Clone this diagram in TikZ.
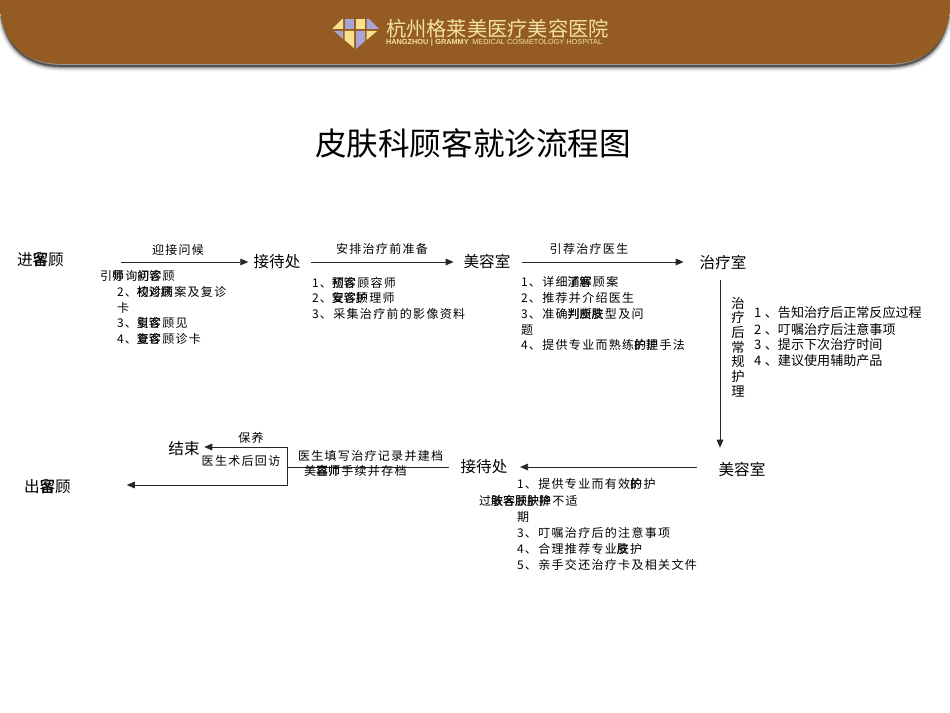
\documentclass[tikz,border=0pt]{standalone}
\usepackage{fontspec}
\usetikzlibrary{arrows.meta}
\setmainfont{Noto Sans CJK SC}
\newfontfamily\cjkwide[LetterSpace=11]{Noto Sans CJK SC}
\newfontfamily\cjkplain{Noto Sans CJK SC}
\newfontfamily\latinlogo{Liberation Sans}
\newcommand{\ovl}[2]{\rlap{#1}#2}
\newcommand{\sidenum}[1]{\makebox[8.2pt][l]{#1}}
\definecolor{brownband}{HTML}{945B22}
\definecolor{logotext}{HTML}{F2E2A6}
\definecolor{logoyellow}{HTML}{F8E08C}
\definecolor{logoviolet}{HTML}{A8A4D6}
\tikzset{
  x=0.75pt,y=-0.75pt,
  every node/.style={inner sep=0pt,outer sep=0pt},
  flownode/.style={font=\cjkplain\fontsize{11.7}{12}\selectfont},
  steptext/.style={anchor=west,font=\cjkwide\fontsize{9}{10}\selectfont},
  edgetext/.style={font=\cjkwide\fontsize{9}{10}\selectfont},
  sidetext/.style={anchor=west,font=\cjkplain\fontsize{9.8}{10}\selectfont},
  flowline/.style={line width=0.6pt,black!85},
  flowarrow/.style={flowline,-{Triangle[length=6pt,width=5pt]}},
}
\begin{document}
\begin{tikzpicture}
\useasboundingbox (0,0) rectangle (950,713);
% header band
\foreach \w/\g in {8/4,6.5/10,5/20,3.5/34,2.2/50,1.2/68}{
  \draw[black!\g,line width=\w pt] (2,16) .. controls (7,48) and (27,66) .. (62,66) -- (888,66) .. controls (923,66) and (943,48) .. (948,16);
}
\fill[brownband] (0,0) -- (0,12) .. controls (5,45) and (25,64) .. (62,64) -- (888,64) .. controls (925,64) and (945,45) .. (950,12) -- (950,0) -- cycle;
% logo
\fill[logoyellow] (332,29) -- (342,19) -- (343,19) -- (343,29) -- cycle;
\fill[logoviolet] (344.5,19) -- (354,19) -- (354,29) -- (344.5,29) -- cycle;
\fill[logoyellow] (356,19) -- (365,19) -- (365,29) -- (356,29) -- cycle;
\fill[logoviolet] (366.5,19) -- (369,19) -- (379,29) -- (366.5,29) -- cycle;
\fill[logoviolet] (334,31) -- (343,31) -- (343,39) -- cycle;
\fill[logoyellow] (344.5,31) -- (354,31) -- (354,48) -- (344.5,40) -- cycle;
\fill[logoviolet] (356,31) -- (365,31) -- (365,41) -- (356,49) -- cycle;
\fill[logoyellow] (366.5,31) -- (377,31) -- (366.5,40) -- cycle;
\node[anchor=west,text=logotext,font=\cjkplain\fontsize{15.2}{16}\selectfont] (logoname) at (386,29) {杭州格莱美医疗美容医院};
\node[anchor=west,text=logotext,font=\latinlogo\fontsize{5.5}{6}\selectfont] (logosub) at (386,43) {\textbf{HANGZHOU\,\,|\,\,GRAMMY}\,\,\,MEDICAL COSMETOLOGY HOSPITAL};
% title
\node[font=\cjkplain\fontsize{23.7}{26}\selectfont] (title) at (473,143) {皮肤科顾客就诊流程图};
% top row
\node[flownode,anchor=west] (inguest) at (17,260) {进\ovl{客}{留}顾};
\node[flownode] (recep1) at (277,262) {接待处};
\node[flownode] (beauty1) at (487,262) {美容室};
\node[flownode] (treat) at (723,263) {治疗室};
\draw[flowarrow] ([xshift=43pt]inguest.east |- recep1.west) -- ([xshift=-4pt]recep1.west);
\draw[flowarrow] ([xshift=8pt]recep1.east) -- ([xshift=-7.5pt]beauty1.west);
\draw[flowarrow] ([xshift=9pt]beauty1.east) -- ([xshift=-12pt]treat.west |- beauty1.west);
\node[edgetext] (e1) at (178,250) {迎接问候};
\node[edgetext] (e2) at (382,249) {安排治疗前准备};
\node[edgetext] (e3) at (589,249) {引荐治疗医生};
% list 1
\node[steptext] (a1) at (100,276) {引\ovl{导}{师}询\ovl{问}{初}\ovl{诊}{客}顾};
\node[steptext] (a2) at (117,292) {2、\ovl{初}{校}\ovl{诊}{对}\ovl{顾}{病}案及复诊};
\node[steptext] (a3) at (117,308) {卡};
\node[steptext] (a4) at (117,323) {3、\ovl{引}{复}\ovl{诊}{客}顾见};
\node[steptext] (a5) at (117,339) {4、\ovl{查}{复}\ovl{诊}{客}顾诊卡};
% list 2
\node[steptext] (b1) at (312,283) {1、\ovl{初}{预}\ovl{诊}{客}顾容师};
\node[steptext] (b2) at (312,298) {2、\ovl{复}{安}\ovl{诊}{客}\ovl{顾}{护}理师};
\node[steptext] (b3) at (312,314) {3、采集治疗前的影像资料};
% list 3
\node[steptext] (c1) at (521,282) {1、详细\ovl{了}{浦}\ovl{解}{客}顾案};
\node[steptext] (c2) at (521,298) {2、推荐并介绍医生};
\node[steptext] (c3) at (521,314) {3、准确\ovl{判}{判}\ovl{断}{皮}\ovl{皮}{肤}型及问};
\node[steptext] (c4) at (521,330) {题};
\node[steptext] (c5) at (521,345) {4、提供专业而熟练\ovl{的}{护}\ovl{护}{理}手法};
% right column
\node[flownode] (beauty2) at (742,469) {美容室};
\coordinate (vertx) at (720,0);
\draw[flowarrow] ([yshift=-7pt]vertx |- treat.south) -- ([yshift=10.5pt]vertx |- beauty2.north);
\node[align=center,font=\cjkplain\fontsize{10}{11}\selectfont] (vert) at (738,347) {治\\疗\\后\\常\\规\\护\\理};
\node[sidetext] (d1) at (754,313) {\sidenum{1}、告知治疗后正常反应过程};
\node[sidetext] (d2) at (754,329) {\sidenum{2}、叮嘱治疗后注意事项};
\node[sidetext] (d3) at (754,345) {\sidenum{3}、提示下次治疗时间};
\node[sidetext] (d4) at (754,361) {\sidenum{4}、建议使用辅助产品};
% bottom row
\node[flownode] (recep2) at (484,467) {接待处};
\draw[flowarrow] ([xshift=-16pt]beauty2.west |- recep2.east) -- ([xshift=9.5pt]recep2.east);
\node[flownode] (finish) at (184,449) {结束};
\node[flownode,anchor=west] (outguest) at (24,487) {出\ovl{客}{留}顾};
\coordinate (junction) at (287,467);
\coordinate (upper) at (287,447);
\coordinate (lower) at (287,485);
\draw[flowline] ([xshift=-9pt]recep2.west) -- (junction);
\draw[flowarrow] (junction) -- (upper) -- ([xshift=3.5pt]finish.east |- upper);
\draw[flowarrow] (upper) -- (lower) -- ([xshift=42pt]outguest.east |- lower);
\node[edgetext] (f1) at (251,438) {保养};
\node[edgetext] (f2) at (241,461) {医生术后回访};
\node[steptext] (f3) at (298,456) {医生填写治疗记录并建档};
\node[steptext] (f4) at (304,471) {美\ovl{容}{嘉}\ovl{师}{师}手续并存档};
% list 5
\node[steptext] (g1) at (517,484) {1、提供专业而有效\ovl{的}{护}护};
\node[steptext] (g2) at (479,501) {过\ovl{敏}{肤}\ovl{客}{容}\ovl{顾}{肤}\ovl{肤}{护}\ovl{护}{降}不适};
\node[steptext] (g3) at (517,517) {期};
\node[steptext] (g4) at (517,533) {3、叮嘱治疗后的注意事项};
\node[steptext] (g5) at (517,549) {4、合理推荐专业\ovl{皮}{肤}护};
\node[steptext] (g6) at (517,565) {5、亲手交还治疗卡及相关文件};
\end{tikzpicture}
\end{document}
